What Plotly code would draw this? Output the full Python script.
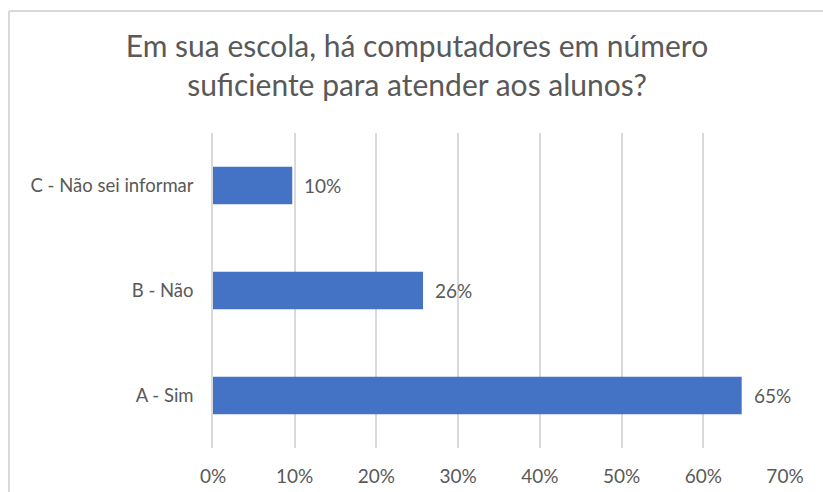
import plotly.graph_objects as go

# Survey answers (bottom to top) and their shares
categories = ["A - Sim", "B - Não", "C - Não sei informar"]
shares = [0.647, 0.257, 0.097]
tick_values = [0, 0.1, 0.2, 0.3, 0.4, 0.5, 0.6, 0.7]
tick_labels = ["0%", "10%", "20%", "30%", "40%", "50%", "60%", "70%"]

W, H = 823, 492
ML, MR, MT, MB = 213, 38, 133, 44
plot_w = W - ML - MR
plot_h = H - MT - MB

FONT = "Lato"
GREY = "#595959"
GRID = "#d9d9d9"


def px_x(p):
    return (p - ML) / plot_w


def px_y(p):
    return (H - MB - p) / plot_h


fig = go.Figure()
fig.add_trace(go.Bar(
    y=categories,
    x=shares,
    orientation="h",
    marker=dict(color="#4472C4", line=dict(width=0)),
    width=0.355,
    hoverinfo="skip",
))

# value labels to the right of each bar
for cat, val in zip(categories, shares):
    fig.add_annotation(
        x=val, y=cat, xref="x", yref="y",
        text=f"{val:.0%}", showarrow=False,
        xanchor="left", yanchor="middle", xshift=10,
        font=dict(family=FONT, size=19, color=GREY),
    )

# outer chart frame (top and left edges)
fig.add_shape(type="line", xref="paper", yref="paper",
              x0=px_x(9), x1=px_x(W + 5), y0=px_y(11), y1=px_y(11),
              line=dict(color=GRID, width=2))
fig.add_shape(type="line", xref="paper", yref="paper",
              x0=px_x(9), x1=px_x(9), y0=px_y(11), y1=px_y(H + 5),
              line=dict(color=GRID, width=2))

fig.update_layout(
    width=W, height=H,
    margin=dict(l=ML, r=MR, t=MT, b=MB, autoexpand=False),
    paper_bgcolor="white", plot_bgcolor="white",
    showlegend=False,
    bargap=0.645,
    title=dict(
        text="Em sua escola, há computadores em número<br>suficiente para atender aos alunos?",
        x=417 / W, xref="container", xanchor="center",
        y=1 - 57 / H, yref="container", yanchor="top",
        font=dict(family=FONT, size=30, color=GREY),
    ),
    xaxis=dict(
        range=[0, 0.7],
        tickvals=tick_values, ticktext=tick_labels,
        showgrid=True, gridcolor=GRID, gridwidth=1.5,
        zeroline=False, showline=False,
        ticks="", ticklabelstandoff=15,
        tickfont=dict(family=FONT, size=19, color=GREY),
        automargin=False,
        fixedrange=True,
    ),
    yaxis=dict(
        categoryorder="array", categoryarray=categories,
        showgrid=False, zeroline=False,
        showline=True, linecolor=GRID, linewidth=1.5,
        ticks="", ticklabelstandoff=14,
        tickfont=dict(family=FONT, size=18.5, color=GREY),
        automargin=False,
        fixedrange=True,
    ),
)

fig.write_html("out.html")
